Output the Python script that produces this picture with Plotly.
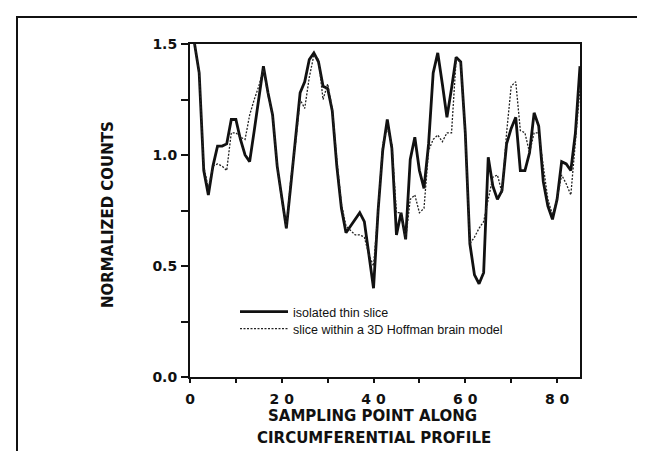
import plotly.graph_objects as go

# ---- data ----
sampling_point = list(range(0, 86))

isolated_thin_slice = [
    1.56, 1.50, 1.37, 0.93, 0.82, 0.95, 1.04, 1.04, 1.05, 1.16,
    1.16, 1.07, 1.00, 0.97, 1.11, 1.25, 1.40, 1.28, 1.18, 0.95,
    0.80, 0.67, 0.87, 1.06, 1.28, 1.33, 1.43, 1.46, 1.42, 1.31,
    1.30, 1.20, 0.95, 0.76, 0.65, 0.68, 0.71, 0.74, 0.70, 0.55,
    0.40, 0.75, 1.02, 1.16, 1.03, 0.64, 0.74, 0.62, 0.98, 1.08,
    0.93, 0.85, 1.05, 1.37, 1.46, 1.32, 1.17, 1.30, 1.44, 1.42,
    1.10, 0.60, 0.46, 0.42, 0.47, 0.99, 0.86, 0.80, 0.84, 1.05,
    1.12, 1.17, 0.93, 0.93, 1.01, 1.19, 1.13, 0.88, 0.77, 0.71,
    0.80, 0.97, 0.96, 0.93, 1.10, 1.40,
]

slice_in_hoffman_model = [
    1.56, 1.50, 1.37, 0.95, 0.85, 0.95, 0.96, 0.95, 0.93, 1.10,
    1.10, 1.08, 1.07, 1.18, 1.25, 1.31, 1.39, 1.27, 1.18, 0.95,
    0.80, 0.67, 0.90, 1.05, 1.25, 1.21, 1.35, 1.45, 1.43, 1.25,
    1.32, 1.21, 0.98, 0.78, 0.68, 0.66, 0.64, 0.64, 0.63, 0.55,
    0.50, 0.75, 1.05, 1.12, 1.05, 0.74, 0.74, 0.62, 0.80, 0.82,
    0.74, 0.76, 1.02, 1.07, 1.09, 1.06, 1.10, 1.10, 1.43, 1.42,
    1.08, 0.60, 0.63, 0.67, 0.70, 0.80, 0.90, 0.91, 0.83, 1.10,
    1.31, 1.33, 1.11, 1.10, 1.01, 1.10, 1.10, 0.95, 0.80, 0.73,
    0.80, 0.91, 0.87, 0.82, 1.05, 1.30,
]

series_names = ["isolated thin slice", "slice within a 3D Hoffman brain model"]

x_tickvals = [0, 10, 20, 30, 40, 50, 60, 70, 80]
x_ticktext = ["0", "", "2 0", "", "4 0", "", "6 0", "", "8 0"]
y_tickvals = [0.0, 0.25, 0.5, 0.75, 1.0, 1.25, 1.5]
y_ticktext = ["0.0", "", "0.5", "", "1.0", "", "1.5"]

x_title_lines = ["SAMPLING POINT ALONG", "CIRCUMFERENTIAL PROFILE"]
y_title = "NORMALIZED COUNTS"

# ---- figure ----
BOLD = "DejaVu Sans, Arial, sans-serif"
REG = "Arial, Liberation Sans, Helvetica, sans-serif"
INK = "#111111"
W, H = 645, 451
L, R, T, B = 182, 73, 36, 82
pw, ph = W - L - R, H - T - B


def px_x(px):
    return (px - L) / pw


def px_y(py):
    return (H - B - py) / ph


fig = go.Figure()
fig.add_trace(go.Scatter(
    x=sampling_point, y=isolated_thin_slice, mode="lines",
    name=series_names[0], legend="legend",
    line=dict(color=INK, width=2.8),
))
fig.add_trace(go.Scatter(
    x=sampling_point, y=slice_in_hoffman_model, mode="lines",
    name=series_names[1], legend="legend2",
    line=dict(color="#222222", width=1.3, dash="2px,1.5px"),
))

leg_common = dict(
    xanchor="left", yanchor="top", bgcolor="rgba(0,0,0,0)", borderwidth=0,
    font=dict(family=REG, size=12.5, color=INK), itemwidth=48,
)

fig.update_layout(
    width=W, height=H,
    margin=dict(l=L, r=R, t=T, b=B, pad=0),
    paper_bgcolor="white", plot_bgcolor="white",
    font=dict(family=REG, color=INK),
    showlegend=True,
    legend=dict(x=px_x(227), y=px_y(289), **leg_common),
    legend2=dict(x=px_x(227), y=px_y(306), **leg_common),
    xaxis=dict(
        range=[0, 85], tickmode="array", tickvals=x_tickvals, ticktext=x_ticktext,
        ticks="outside", ticklen=4, tickwidth=1.5, tickcolor=INK,
        ticklabelstandoff=4,
        showline=True, linecolor=INK, linewidth=2, mirror=True,
        showgrid=False, zeroline=False,
        tickfont=dict(family=BOLD, size=14, weight="bold", color=INK),
    ),
    yaxis=dict(
        range=[0, 1.5], tickmode="array", tickvals=y_tickvals, ticktext=y_ticktext,
        ticks="outside", ticklen=7, tickwidth=1.5, tickcolor=INK,
        ticklabelstandoff=1,
        showline=True, linecolor=INK, linewidth=2, mirror=True,
        showgrid=False, zeroline=False,
        tickfont=dict(family=BOLD, size=14, weight="bold", color=INK),
    ),
    annotations=[
        dict(text=x_title_lines[0], xref="paper", yref="paper", x=px_x(364), y=px_y(408),
             xanchor="center", yanchor="middle", showarrow=False,
             font=dict(family=BOLD, size=15, weight="bold", color=INK)),
        dict(text=x_title_lines[1], xref="paper", yref="paper", x=px_x(366), y=px_y(430),
             xanchor="center", yanchor="middle", showarrow=False,
             font=dict(family=BOLD, size=15, weight="bold", color=INK)),
        dict(text=y_title, xref="paper", yref="paper", x=px_x(100), y=px_y(207),
             xanchor="center", yanchor="middle", textangle=-90, showarrow=False,
             font=dict(family=BOLD, size=15, weight="bold", color=INK)),
    ],
    shapes=[
        dict(type="rect", xref="paper", yref="paper",
             x0=px_x(9), x1=px_x(642), y0=px_y(460), y1=px_y(9),
             line=dict(color=INK, width=2), fillcolor="rgba(0,0,0,0)",
             layer="below"),
    ],
)

fig.write_html("out.html")
